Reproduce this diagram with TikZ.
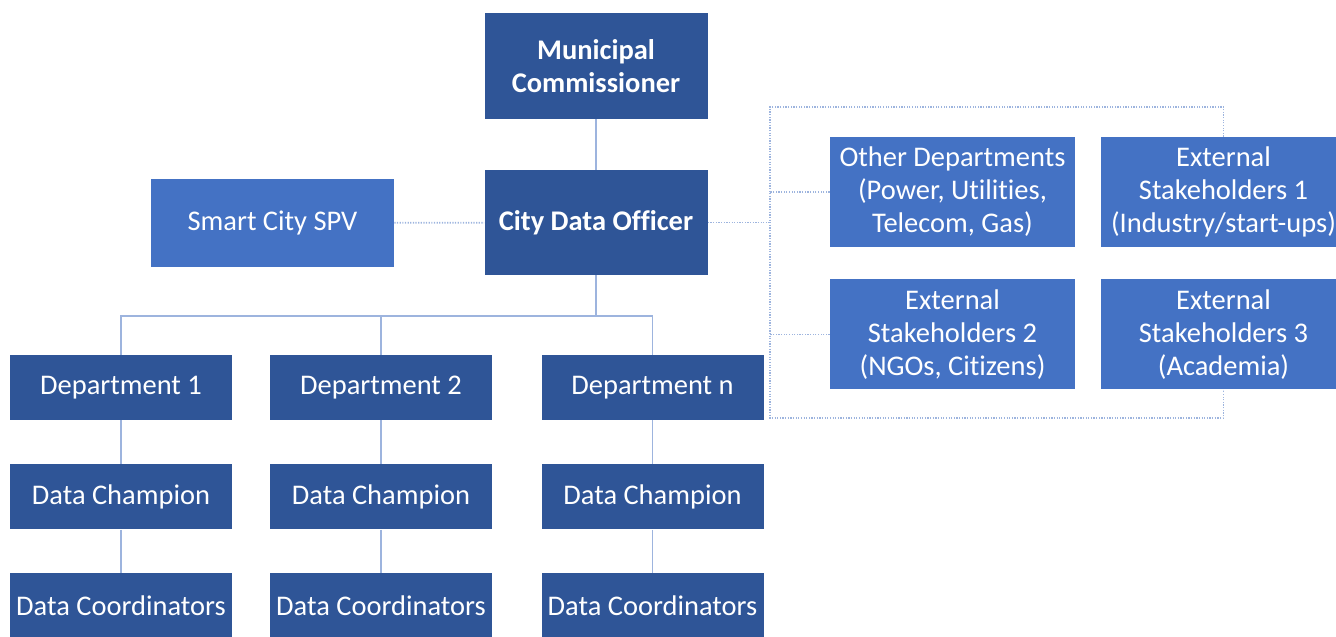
\documentclass[tikz,border=0pt]{standalone}
\usepackage{fontspec}
\setmainfont[RawFeature=-liga]{Carlito}
\definecolor{darkbox}{HTML}{2F5597}
\definecolor{lightbox}{HTML}{4472C4}
\definecolor{linkblue}{HTML}{9DB4DE}
\begin{document}
\begin{tikzpicture}
  \tikzstyle{box} = [rectangle, fill=darkbox, text=white, align=center, inner sep=0pt, font=\fontsize{16.2}{18.8}\selectfont]
  \tikzstyle{top_block} = [box, minimum height = 21.2mm, minimum width = 44.6mm]
  \tikzstyle{dept} = [box, minimum height = 13mm, minimum width = 44.4mm]
  \tikzstyle{side} = [box, fill=lightbox, minimum height = 22mm, minimum width = 49mm]
  \tikzstyle{link} = [-, color=linkblue, line width = 0.25mm]
  \tikzstyle{dotlink} = [-, color=linkblue, line width = 0.35mm, dash pattern = on 0.7pt off 0.8pt]

  \clip (0,0) rectangle (26.72,-12.74);

  \node [top_block, font=\fontsize{16.2}{18.8}\selectfont\bfseries] at (11.92,-1.32) (mc) {Municipal\\Commissioner};
  \node [top_block, minimum height = 21mm, font=\fontsize{16.2}{18.8}\selectfont\bfseries] at (11.92,-4.45) (cdo) {City Data Officer};
  \node [side, minimum width = 48.6mm, minimum height = 17.6mm] at (5.45,-4.46) (spv) {Smart City SPV};

  \node [dept] at (2.42,-7.75) (d1) {Department 1};
  \node [dept] at (7.62,-7.75) (d2) {Department 2};
  \node [dept] at (13.05,-7.75) (dn) {Department n};
  \node [dept] at (2.42,-9.94) (ch1) {Data Champion};
  \node [dept] at (7.62,-9.94) (ch2) {Data Champion};
  \node [dept] at (13.05,-9.94) (chn) {Data Champion};
  \node [dept] at (2.42,-12.11) (co1) {Data Coordinators};
  \node [dept] at (7.62,-12.11) (co2) {Data Coordinators};
  \node [dept] at (13.05,-12.11) (con) {Data Coordinators};

  \node [side] at (19.05,-3.84) (oth) {Other Departments\\(Power, Utilities,\\Telecom, Gas)};
  \node [side] at (24.47,-3.84) (ext1) {External\\Stakeholders 1\\(Industry/start-ups)};
  \node [side] at (19.05,-6.69) (ext2) {External\\Stakeholders 2\\(NGOs, Citizens)};
  \node [side] at (24.47,-6.69) (ext3) {External\\Stakeholders 3\\(Academia)};

  \coordinate (bus) at (11.92,-6.32);
  \coordinate (hub_top) at (15.40,-2.14);
  \coordinate (hub_bottom) at (15.40,-8.36);

  \draw[link] (mc) to (cdo);
  \foreach \d in {d1,d2,dn}
    \draw[link] (cdo.south) -- (bus) -| (\d.north);
  \draw[link] (d1) to (ch1);
  \draw[link] (d2) to (ch2);
  \draw[link] (dn) to (chn);
  \draw[link] (ch1) to (co1);
  \draw[link] (ch2) to (co2);
  \draw[link] (chn) to (con);

  \draw[dotlink] (spv) to (cdo);
  \draw[dotlink] (cdo.east) -- (cdo.east -| hub_top);
  \draw[dotlink] (ext1.north) |- (hub_top) -- (hub_bottom) -| (ext3.south);
  \draw[dotlink] (oth.west) -- (oth.west -| hub_top);
  \draw[dotlink] (ext2.west) -- (ext2.west -| hub_top);
\end{tikzpicture}
\end{document}
